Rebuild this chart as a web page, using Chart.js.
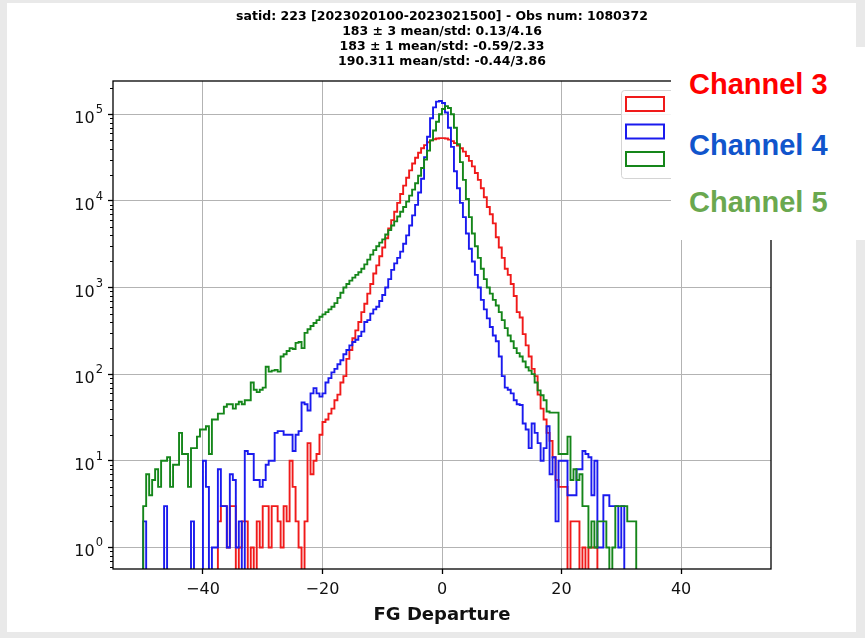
<!DOCTYPE html>
<html>
<head>
<meta charset="utf-8">
<script src="https://cdn.jsdelivr.net/npm/chart.js@4.4.1/dist/chart.umd.min.js"></script>
<style>
  html, body { margin: 0; padding: 0; }
  body { width: 865px; height: 638px; background: #e9e9e9; position: relative; overflow: hidden; }
  #sheet { position: absolute; left: 7px; top: 3px; width: 849px; height: 629px; background: #fff; }
  #plot { position: absolute; left: 0; top: 0; }
  #channels { position: absolute; left: 671px; top: 47px; width: 194px; height: 193px; background: #fff;
              font-family: 'Liberation Sans', Arial, sans-serif; font-weight: bold; font-size: 29px; }
  #channels div { position: absolute; left: 18px; line-height: 29px; white-space: nowrap; }
</style>
</head>
<body>
<div id="sheet"></div>
<canvas id="plot" width="865" height="638"></canvas>
<div id="channels">
  <div style="top:23px;color:#ff0000">Channel 3</div>
  <div style="top:84px;color:#1155cc">Channel 4</div>
  <div style="top:141px;color:#6aa84f">Channel 5</div>
</div>
<script>
// histogram bins: left edge of the first bin and bin width
const binStart = -50;
const binWidth = 0.5;

// counts per bin, starting at binStart
const ch3Counts = [
  0, 0, 0, 0, 0, 0, 0, 0, 0, 0,
  0, 0, 0, 0, 0, 0, 0, 0, 0, 0,
  0, 0, 0, 0, 0, 2, 3, 3, 1, 3,
  3, 0, 1, 2, 2, 0, 1, 0, 2, 1,
  3, 3, 1, 3, 3, 2, 1, 3, 2, 10,
  5, 2, 1, 0, 2, 16, 7, 10, 12, 20,
  28, 30, 35, 40, 50, 58, 80, 95, 150, 190,
  260, 320, 400, 520, 650, 850, 1100, 1450, 1800, 2300,
  2900, 3700, 4800, 6000, 7500, 9500, 12000, 15000, 18500, 22500,
  27000, 31500, 36000, 40500, 44000, 47500, 50000, 51500, 52500, 53000,
  53000, 52500, 51000, 49000, 46500, 43500, 40500, 37000, 33000, 29000,
  25000, 21000, 17500, 14000, 11000, 8500, 7000, 5500, 3800, 2900,
  2200, 1650, 1400, 1100, 800, 520, 450, 290, 215, 160,
  115, 95, 58, 40, 30, 21, 17, 11, 6, 5,
  5, 5, 0, 2, 2, 2, 0, 1, 0, 1,
  1, 1
];
const ch4Counts = [
  2, 0, 0, 0, 0, 0, 0, 3, 0, 0,
  0, 0, 0, 0, 0, 0, 2, 0, 0, 0,
  10, 5, 0, 1, 1, 8, 3, 3, 1, 7,
  6, 1, 2, 0, 13, 12, 12, 6, 6, 5,
  6, 9, 10, 10, 21, 22, 22, 20, 20, 20,
  13, 20, 22, 47, 45, 38, 60, 69, 60, 55,
  60, 80, 90, 105, 115, 130, 145, 170, 190, 215,
  235, 250, 275, 310, 400, 420, 500, 560, 600, 700,
  820, 1000, 1250, 1600, 1900, 2200, 2600, 3200, 4000, 5200,
  6800, 9000, 12500, 18000, 32000, 55000, 90000, 120000, 140000, 142000,
  135000, 105000, 70000, 42000, 22000, 14000, 9500, 6500, 4200, 2800,
  2000, 1400, 1000, 720, 560, 440, 350, 280, 240, 160,
  95, 70, 66, 60, 50, 45, 44, 27, 23, 14,
  27, 21, 16, 10, 14, 25, 7, 11, 2, 10,
  10, 10, 4, 4, 4, 8, 8, 13, 12, 11,
  4, 10, 1, 1, 4, 4, 3, 3, 3, 1,
  3
];
const ch5Counts = [
  3, 7, 4, 6, 8, 5, 10, 10, 11, 5,
  9, 9, 21, 12, 12, 5, 14, 14, 19, 23,
  23, 25, 12, 30, 30, 35, 35, 42, 45, 45,
  40, 45, 48, 45, 50, 50, 80, 66, 62, 66,
  70, 122, 107, 110, 112, 107, 160, 170, 185, 200,
  195, 230, 235, 200, 300, 330, 360, 390, 420, 460,
  490, 520, 560, 600, 660, 760, 870, 1000, 1100, 1200,
  1300, 1400, 1500, 1650, 1850, 2100, 2400, 2700, 3000, 3300,
  3600, 4100, 4600, 5200, 5800, 6600, 7500, 8500, 9800, 11500,
  13500, 16000, 19500, 24000, 30000, 38000, 50000, 65000, 82000, 100000,
  115000, 124000, 118000, 100000, 70000, 45000, 28000, 17500, 10500, 6500,
  4200, 3000, 2200, 1650, 1250, 1000, 850, 720, 620, 520,
  420, 340, 280, 240, 200, 175, 160, 140, 120, 110,
  100, 80, 65, 57, 50, 37, 36, 36, 36, 12,
  12, 12, 19, 6, 8, 6, 7, 3, 3, 1,
  2, 1, 2, 2, 2, 1, 0, 1, 3, 3,
  3, 3, 2, 2, 2
];

const seriesLabels = ['183 \u00b1 3', '183 \u00b1 1', '190.311'];
const seriesColors = ['#f01a1a', '#1a1aee', '#15861a'];
const titleLines = [
  'satid: 223 [2023020100-2023021500] - Obs num: 1080372',
  '183 \u00b1 3 mean/std: 0.13/4.16',
  '183 \u00b1 1 mean/std: -0.59/2.33',
  '190.311 mean/std: -0.44/3.86'
];
const xTickValues = [-40, -20, 0, 20, 40];
const yDecades = [0, 1, 2, 3, 4, 5];
const xLabel = 'FG Departure';

const xMin = -55.05, xMax = 55.05;
const yMin = Math.pow(10, -0.249), yMax = Math.pow(10, 5.384);
const FLOOR = 0.01;   // empty bins drop below the visible range

const isDecade = v => Math.abs(Math.log10(v) - Math.round(Math.log10(v))) < 1e-9;

function stepPoints(counts) {
  const pts = [{x: binStart, y: FLOOR}];
  counts.forEach((c, i) => pts.push({x: binStart + i * binWidth, y: c > 0 ? c : FLOOR}));
  pts.push({x: binStart + counts.length * binWidth, y: FLOOR});
  return pts;
}

// title, spines, minor ticks, 10^n labels and the legend box
const decor = {
  id: 'decor',
  afterDatasetsDraw(chart) {
    const ctx = chart.ctx, a = chart.chartArea, y = chart.scales.y;
    ctx.save();
    // minor log ticks
    ctx.strokeStyle = '#000';
    ctx.lineWidth = 1;
    y.ticks.forEach(t => {
      if (isDecade(t.value)) return;
      const py = Math.round(y.getPixelForValue(t.value)) + 0.5;
      ctx.beginPath();
      ctx.moveTo(a.left - 3, py);
      ctx.lineTo(a.left, py);
      ctx.stroke();
    });
    // decade labels with raised exponent
    ctx.fillStyle = '#111';
    ctx.textAlign = 'right';
    ctx.textBaseline = 'alphabetic';
    const right = a.left - 10;
    yDecades.forEach(e => {
      const py = y.getPixelForValue(Math.pow(10, e));
      ctx.font = '11.5px "DejaVu Sans"';
      const ew = ctx.measureText(String(e)).width;
      ctx.fillText(String(e), right, py - 1);
      ctx.font = '16px "DejaVu Sans"';
      ctx.fillText('10', right - ew - 1, py + 9);
    });
    // spines
    ctx.strokeStyle = '#000';
    ctx.lineWidth = 1.3;
    ctx.strokeRect(a.left, a.top, a.right - a.left, a.bottom - a.top);
    // legend
    const lx = 621, ly = 90, lw = 110, lh = 88;
    ctx.beginPath();
    ctx.roundRect(lx + 0.5, ly + 0.5, lw, lh, 3);
    ctx.fillStyle = 'rgba(255,255,255,0.85)';
    ctx.fill();
    ctx.strokeStyle = '#d4d4d4';
    ctx.lineWidth = 1;
    ctx.stroke();
    chart.data.datasets.forEach((ds, i) => {
      ctx.strokeStyle = ds.borderColor;
      ctx.lineWidth = 2;
      ctx.strokeRect(626, 97 + i * 27.5, 38, 14);
    });
    // title
    ctx.fillStyle = '#000';
    ctx.font = 'bold 12.5px "DejaVu Sans"';
    ctx.textAlign = 'center';
    ctx.textBaseline = 'middle';
    const cx = (a.left + a.right) / 2;
    titleLines.forEach((s, i) => ctx.fillText(s, cx, 16.5 + i * 15));
    ctx.restore();
  }
};

const datasets = [ch3Counts, ch4Counts, ch5Counts].map((counts, i) => ({
  label: seriesLabels[i],
  data: stepPoints(counts),
  borderColor: seriesColors[i],
  borderWidth: 1.9,
  pointRadius: 0,
  stepped: true,
  fill: false,
  clip: 0,
  order: 2 - i
}));

new Chart(document.getElementById('plot'), {
  type: 'line',
  data: {datasets},
  options: {
    responsive: false,
    animation: false,
    events: [],
    layout: {padding: {top: 81, right: 94, bottom: 0, left: 0}},
    plugins: {legend: {display: false}, title: {display: false}, tooltip: {enabled: false}},
    scales: {
      x: {
        type: 'linear',
        min: xMin,
        max: xMax,
        afterFit: s => { s.height = 69; },
        afterBuildTicks: s => { s.ticks = xTickValues.map(v => ({value: v})); },
        border: {display: false},
        grid: {color: '#b3b3b3', lineWidth: 1, tickLength: 5, tickColor: '#000', tickWidth: 1.3},
        ticks: {
          padding: 6,
          color: '#111',
          font: {family: 'DejaVu Sans', size: 16},
          callback: v => v < 0 ? '\u2212' + Math.abs(v) : String(v)
        },
        title: {
          display: true,
          text: xLabel,
          color: '#111',
          font: {family: 'DejaVu Sans', size: 18, weight: 'bold'},
          padding: {top: 0, bottom: 12}
        }
      },
      y: {
        type: 'logarithmic',
        min: yMin,
        max: yMax,
        afterFit: s => { s.width = 113; },
        afterBuildTicks: s => {
          const ticks = [];
          for (let e = -1; e <= 5; e++) {
            for (let m = 1; m <= 9; m++) {
              const v = m * Math.pow(10, e);
              if (v >= yMin && v <= yMax) ticks.push({value: v});
            }
          }
          s.ticks = ticks;
        },
        border: {display: false},
        grid: {
          color: c => c.tick && isDecade(c.tick.value) ? '#b3b3b3' : 'rgba(0,0,0,0)',
          tickColor: c => c.tick && isDecade(c.tick.value) ? '#000' : 'rgba(0,0,0,0)',
          lineWidth: 1,
          tickLength: 5,
          tickWidth: 1.3
        },
        ticks: {
          autoSkip: false,
          callback: () => ''
        }
      }
    }
  },
  plugins: [decor]
});
</script>
</body>
</html>
